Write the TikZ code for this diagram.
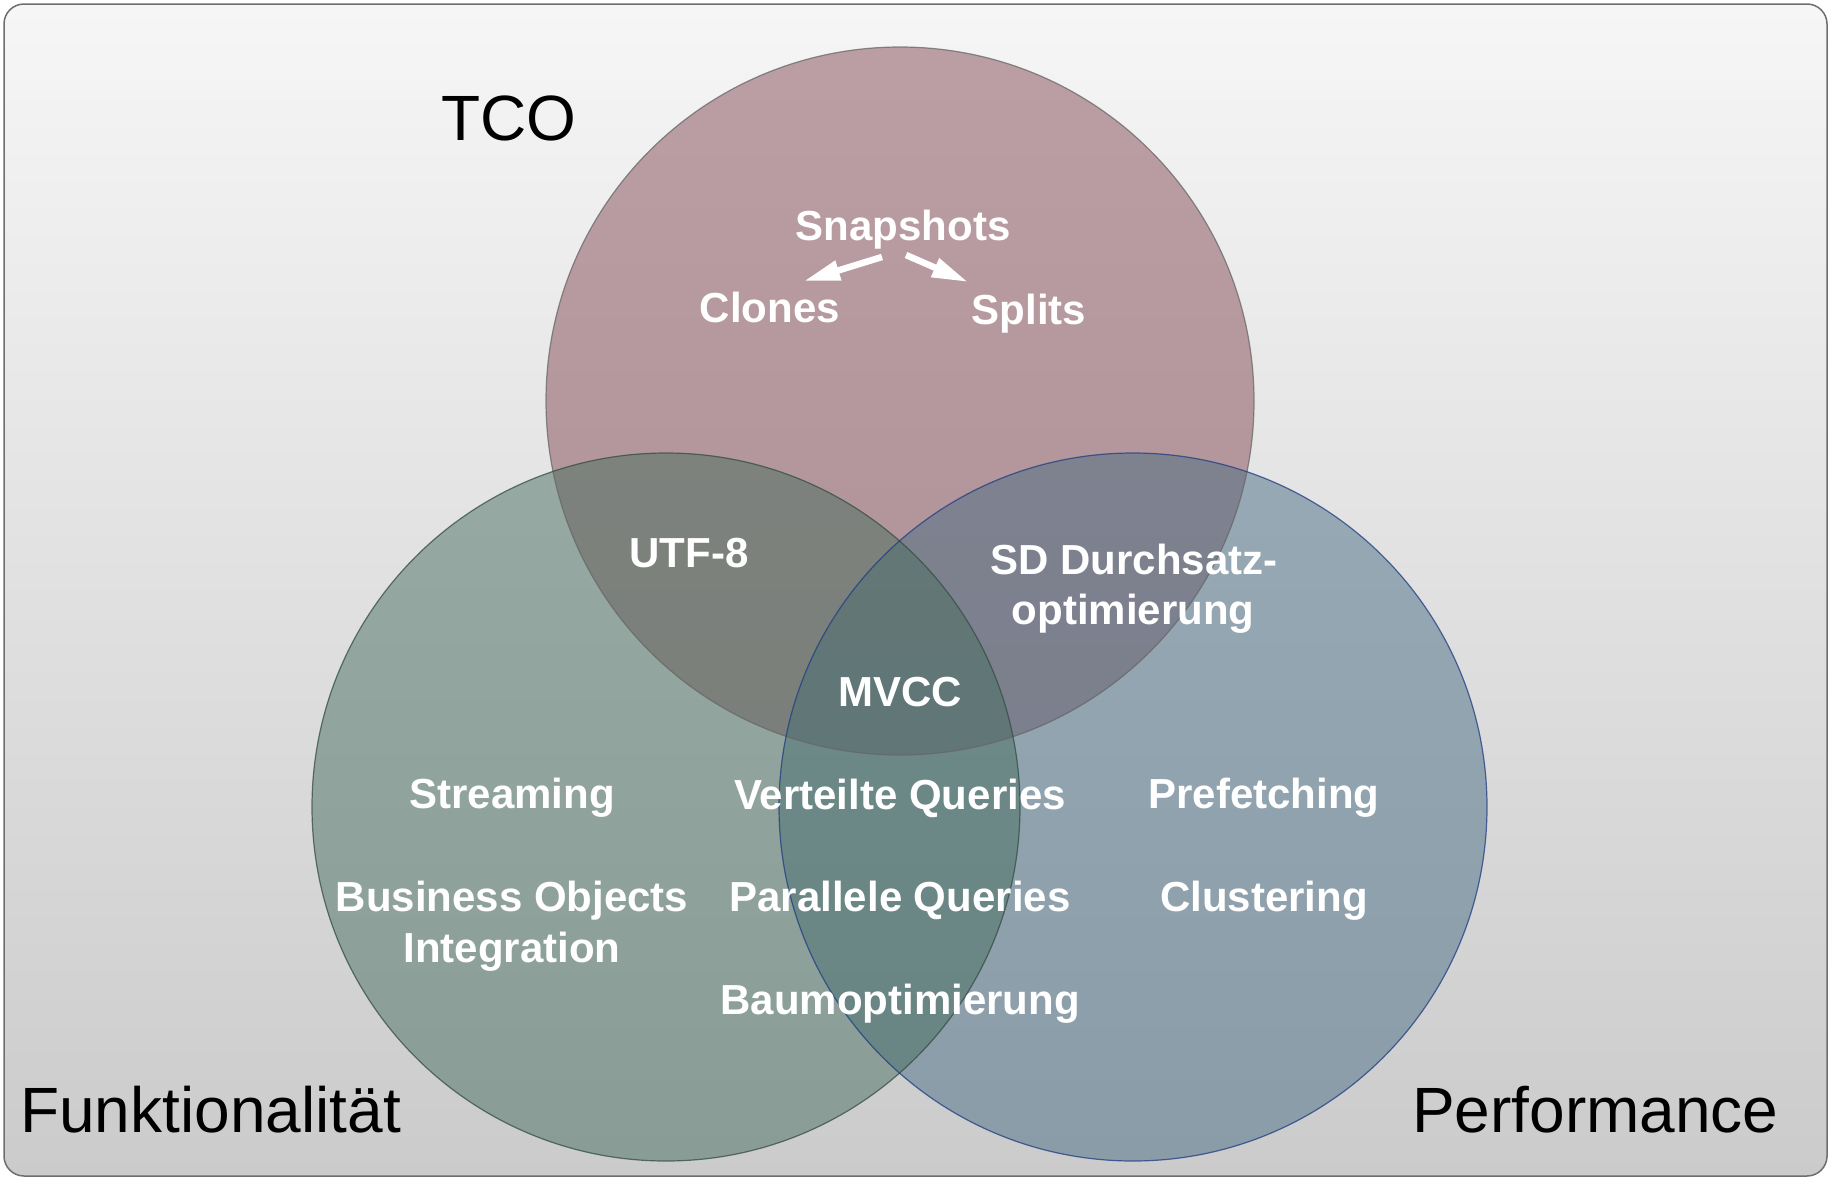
\documentclass[tikz,border=0pt]{standalone}
\usepackage{fontspec}
\setmainfont{Liberation Sans}
\usetikzlibrary{arrows.meta,calc}
\definecolor{tcoC}{RGB}{132,74,84}
\definecolor{funC}{RGB}{72,110,96}
\definecolor{perC}{RGB}{74,110,132}
\definecolor{frameC}{RGB}{110,110,110}
\definecolor{bgTop}{RGB}{246,246,246}
\definecolor{bgBot}{RGB}{203,203,203}
\definecolor{perLine}{RGB}{30,60,130}
\begin{document}
\begin{tikzpicture}[x=1pt,y=-1pt,
  lbl/.style={text=white,font=\fontsize{42}{50}\selectfont\bfseries,anchor=base,inner sep=0pt},
  big/.style={text=black,font=\fontsize{64}{72}\selectfont,anchor=base west,inner sep=0pt},
  vennfill/.style={fill opacity=0.5},
  vennline/.style={draw opacity=0.75,line width=1.2pt},
  blockarrow/.style={white,line width=6.5pt,-{Triangle[length=36pt,width=19pt]}}]
\useasboundingbox (0,0) rectangle (1830,1178);
\shade[rounded corners=20pt,top color=bgTop,bottom color=bgBot,draw=frameC,line width=1.5pt] (4,4) rectangle (1827,1176);
% circle fills
\fill[vennfill,tcoC] (900,401) circle[radius=354];
\fill[vennfill,perC] (1133,807) circle[radius=354];
\fill[vennfill,funC] (666,807) circle[radius=354];
% circle outlines
\draw[vennline,black!60] (900,401) circle[radius=354];
\draw[vennline,funC!70!black] (666,807) circle[radius=354];
\draw[vennline,perLine] (1133,807) circle[radius=354];
% set labels
\node[big] (tco) at (441,140) {TCO};
\node[big] (fun) at (20,1132) {Funktionalität};
\node[big] (perf) at (1412,1132) {Performance};
% item labels
\node[lbl] (snap) at (903,240) {Snapshots};
\node[lbl] (clones) at (770,322) {Clones};
\node[lbl] (splits) at (1029,324) {Splits};
\node[lbl] (utf) at (689,567) {UTF-8};
\node[lbl] (sda) at (1134,574) {SD Durchsatz-};
\node[lbl] (sdb) at (1133,624) {optimierung};
\node[lbl] (mvcc) at (900,706) {MVCC};
\node[lbl] (stream) at (512,808) {Streaming};
\node[lbl] (vq) at (900,809) {Verteilte Queries};
\node[lbl] (pref) at (1264,808) {Prefetching};
\node[lbl] (boa) at (512,911) {Business Objects};
\node[lbl] (bob) at (512,962) {Integration};
\node[lbl] (pq) at (900,911) {Parallele Queries};
\node[lbl] (clu) at (1264,911) {Clustering};
\node[lbl] (baum) at (900,1014) {Baumoptimierung};
% arrows
\draw[blockarrow] ($(snap.base)+(-21,17)$) -- ($(clones.base)+(34,-41)$);
\draw[blockarrow] ($(snap.base)+(3,15)$) -- ($(splits.base)+(-61,-42)$);
\end{tikzpicture}
\end{document}
